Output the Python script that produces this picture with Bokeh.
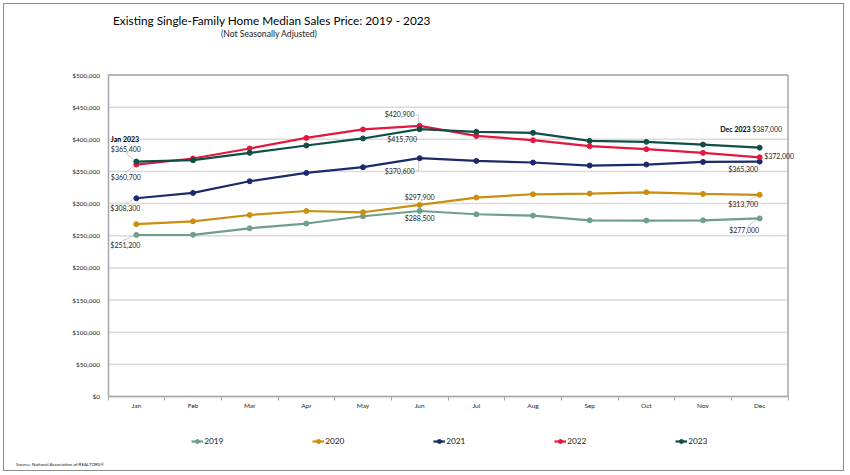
from bokeh.plotting import figure
from bokeh.models import (ColumnDataSource, NumeralTickFormatter, FixedTicker,
                          Label, Legend, LegendItem, Range1d)
from bokeh.embed import file_html
from bokeh.resources import INLINE

months = ["Jan", "Feb", "Mar", "Apr", "May", "Jun", "Jul", "Aug", "Sep", "Oct", "Nov", "Dec"]
years = ["2019", "2020", "2021", "2022", "2023"]
price_2019 = [251200, 251500, 261600, 269000, 280300, 288500, 283400, 281300, 274000, 273600, 274000, 277000]
price_2020 = [268000, 272500, 282300, 288500, 286500, 297900, 309400, 314500, 315600, 317600, 315100, 313700]
price_2021 = [308300, 316600, 334800, 347700, 356600, 370600, 366400, 363900, 359200, 360700, 364800, 365300]
price_2022 = [360700, 370100, 385700, 402200, 415300, 420900, 405300, 398600, 389300, 384600, 378900, 372000]
price_2023 = [365400, 367500, 378900, 390400, 401300, 415700, 411600, 410000, 397500, 396000, 391800, 387000]
y_ticks = [0, 50000, 100000, 150000, 200000, 250000, 300000, 350000, 400000, 450000, 500000]

title_text = "Existing Single-Family Home Median Sales Price: 2019 - 2023"
subtitle_text = "(Not Seasonally Adjusted)"
source_text = "Source: National Association of REALTORS\u00ae"

series = [price_2019, price_2020, price_2021, price_2022, price_2023]
colors = ["#6e9e8c", "#c98f0d", "#1b2a6b", "#e2183f", "#0f4f45"]

FONT = "Lato"

# page geometry (pixels): canvas offset, canvas size and the plotting box inside it
OX, OY = 4.5, 4.5
CW, CH = 839, 466
BOX_L, BOX_R, BOX_T, BOX_B = 108, 788, 75, 396.5

n = len(months)
ux = n / (BOX_R - BOX_L)
x_start = -(BOX_L - OX) * ux
x_end = x_start + CW * ux
uy = (y_ticks[-1] - y_ticks[0]) / (BOX_B - BOX_T)
y_start = y_ticks[0] - (OY + CH - BOX_B) * uy
y_end = y_start + CH * uy

p = figure(output_backend="svg", toolbar_location=None,
           x_range=Range1d(x_start, x_end), y_range=Range1d(y_start, y_end),
           min_border=0, min_border_left=0, min_border_right=0,
           min_border_top=0, min_border_bottom=0)
p.frame_width = CW
p.frame_height = CH
p.background_fill_color = "white"
p.border_fill_color = "white"
p.outline_line_color = None
p.title.visible = False
p.styles = {"margin": "3px", "border": "1.5px solid #8c8c8c"}

xs = [i + 0.5 for i in range(n)]

# grid lines and the box edges
p.segment(x0=[0] * len(y_ticks), x1=[n] * len(y_ticks), y0=y_ticks, y1=y_ticks,
          line_color="#dadada", line_width=1.5)
p.segment(x0=[0, n], x1=[n, n], y0=[y_ticks[-1], y_ticks[0]], y1=[y_ticks[-1], y_ticks[-1]],
          line_color="#a6a6a6", line_width=1.5)

# axes drawn inside the canvas at the box edges
p.xaxis.fixed_location = y_ticks[0]
p.yaxis.fixed_location = 0
p.xaxis.bounds = (0, n)
p.yaxis.bounds = (y_ticks[0], y_ticks[-1])
p.xaxis.ticker = FixedTicker(ticks=xs, minor_ticks=list(range(n + 1)))
p.xaxis.major_label_overrides = {x: m for x, m in zip(xs, months)}
p.xaxis.major_tick_out = 0
p.xaxis.major_tick_in = 0
p.xaxis.minor_tick_out = 4
p.xaxis.minor_tick_in = 0
p.xaxis.minor_tick_line_color = "#a6a6a6"
p.xaxis.axis_line_color = "#a6a6a6"
p.xaxis.axis_line_width = 1.5
p.xaxis.major_label_standoff = 1
p.yaxis.ticker = FixedTicker(ticks=y_ticks)
p.yaxis.formatter = NumeralTickFormatter(format="$0,0")
p.yaxis.major_tick_out = 0
p.yaxis.major_tick_in = 0
p.yaxis.minor_tick_out = 0
p.yaxis.axis_line_color = "#a6a6a6"
p.yaxis.axis_line_width = 1.5
p.yaxis.major_label_standoff = 8
for ax in (p.xaxis, p.yaxis):
    ax.major_label_text_font = FONT
    ax.major_label_text_font_size = "6.5px"
    ax.major_label_text_color = "#262626"
p.xgrid.grid_line_color = None
p.ygrid.grid_line_color = None

# thin leader lines from labels to their points (pixel offsets from the point)
lead_x0, lead_y0, lead_x1, lead_y1 = [], [], [], []

def leader(i, vals, a, b):
    (dx0, dy0), (dx1, dy1) = a, b
    lead_x0.append(xs[i] + dx0 * ux)
    lead_y0.append(vals[i] - dy0 * uy)
    lead_x1.append(xs[i] + dx1 * ux)
    lead_y1.append(vals[i] - dy1 * uy)

leader(0, price_2023, (-11, -9), (-3, -2))
leader(0, price_2022, (-11, 8), (-3, 2))
leader(0, price_2021, (-11, 6), (-3, 1))
leader(0, price_2019, (-14, 6), (-3, 1))
leader(5, price_2022, (-4, -11), (-1, -11))
leader(5, price_2022, (-1, -11), (-1, -3))
leader(5, price_2021, (-4, 12.5), (-1, 12.5))
leader(5, price_2021, (-1, 12.5), (-1, 3))
leader(11, price_2020, (-12, 6), (-3, 1))
leader(11, price_2019, (-12, 8), (-3, 1))
p.segment(x0=lead_x0, y0=lead_y0, x1=lead_x1, y1=lead_y1,
          line_color="#bdbdbd", line_width=0.8)

# series
items = []
for yr, vals, c in zip(years, series, colors):
    src = ColumnDataSource(dict(x=xs, y=vals))
    ln = p.line("x", "y", source=src, line_color=c, line_width=2.2)
    sc = p.scatter("x", "y", source=src, size=5, fill_color=c, line_color=c)
    items.append(LegendItem(label=yr, renderers=[ln, sc]))

legend = Legend(items=items, orientation="horizontal",
                location=(191.7 - OX, OY + CH - 446.7),
                glyph_width=12, glyph_height=10, label_standoff=1, spacing=88,
                padding=0, margin=0, border_line_color=None, background_fill_alpha=0,
                label_text_font=FONT, label_text_font_size="8.3px",
                label_text_color="#1a1a1a", label_height=10)
p.add_layout(legend, "center")

# data labels (annotations anchored at the data points)
def fmt(v):
    return "${:,}".format(v)

def tag(i, vals, dx, dy, align="left", text=None, bold=False, size="7px"):
    p.add_layout(Label(x=xs[i], y=vals[i], text=text if text else fmt(vals[i]),
                       x_offset=dx, y_offset=-dy, text_align=align,
                       text_baseline="middle", text_font=FONT, text_font_size=size,
                       text_font_style="bold" if bold else "normal",
                       text_color="#000000" if bold else "#262626"))

# January
tag(0, price_2023, -25.5, -22.5, text="Jan 2023", bold=True)
tag(0, price_2023, -25.5, -13)
tag(0, price_2022, -25.5, 12)
tag(0, price_2021, -26, 10)
tag(0, price_2019, -26, 10.5)
# June
tag(5, price_2022, -5, -11.5, align="right")
tag(5, price_2023, -2.5, 9.5, align="right")
tag(5, price_2021, -5, 12.5, align="right")
tag(5, price_2020, 0, -8, align="center")
tag(5, price_2019, 0, 7.5, align="center")
# December
tag(11, price_2023, -9, -19, align="right", text="Dec 2023", bold=True)
tag(11, price_2023, 22.5, -19, align="right")
tag(11, price_2022, 4.5, -1.5)
tag(11, price_2021, -1.5, 7.5, align="right")
tag(11, price_2020, -1.5, 9.5, align="right")
tag(11, price_2019, -0.5, 11.5, align="right")

# title, subtitle and source (screen pixels from the canvas bottom-left)
def note(text, left, cy, size, color):
    p.add_layout(Label(x=left - OX, y=OY + CH - cy, x_units="screen", y_units="screen",
                       text=text, text_font=FONT, text_font_size=size, text_color=color,
                       text_align="left", text_baseline="middle"))

note(title_text, 113, 20.7, "11.8px", "#000000")
note(subtitle_text, 221, 34, "8.6px", "#1a1a1a")
note(source_text, 16, 464, "4.5px", "#1a1a1a")

open("out.html", "w").write(file_html(p, INLINE))
